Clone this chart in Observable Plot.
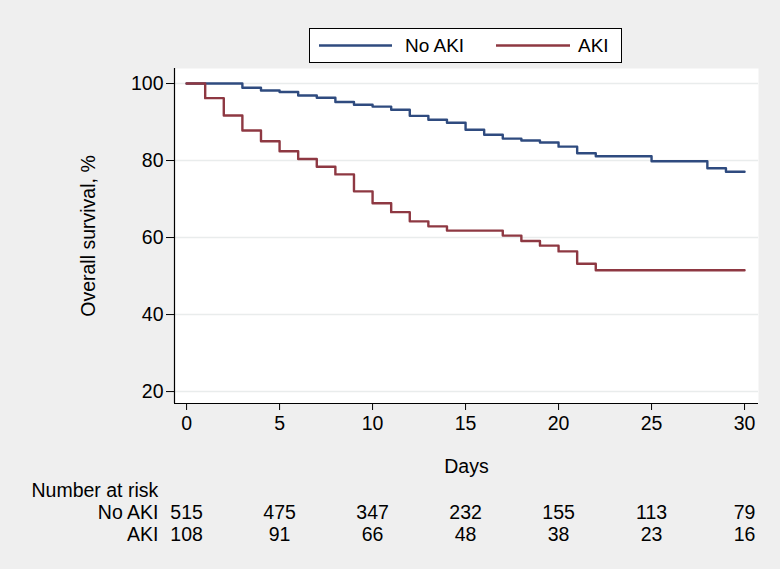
<!DOCTYPE html>
<html>
<head>
<meta charset="utf-8">
<script src="https://cdn.jsdelivr.net/npm/d3@7"></script>
<script src="https://cdn.jsdelivr.net/npm/@observablehq/plot@0.6"></script>
<style>
  html, body { margin: 0; padding: 0; background: #efefef; }
  #wrap { position: relative; width: 780px; height: 569px; font-family: "Liberation Sans", Arial, Helvetica, sans-serif; }
  #legend { position: absolute; left: 309px; top: 28px; width: 311px; height: 33px; background: #fff; border: 1.5px solid #000; }
  #legend svg { display: block; }
</style>
</head>
<body>
<div id="wrap"></div>
<script>
// ---- data ----
const seriesNames = ["No AKI", "AKI"];
const seriesColors = ["#2f4b7f", "#8e3842"];

const noAkiDays = [0, 3, 4, 5, 6, 7, 8, 9, 10, 11, 12, 13, 14, 15, 16, 17, 18, 19, 20, 21, 22, 25, 28, 29, 30];
const noAkiSurv = [100, 98.9, 98.2, 97.8, 96.9, 96.3, 95.2, 94.5, 94.0, 93.2, 91.6, 90.6, 89.8, 88.0, 86.7, 85.7, 85.2, 84.7, 83.6, 81.9, 81.1, 79.8, 78.0, 77.1, 77.1];

const akiDays = [0, 1, 2, 3, 4, 5, 6, 7, 8, 9, 10, 11, 12, 13, 14, 17, 18, 19, 20, 21, 22, 30];
const akiSurv = [100, 96.2, 91.7, 87.8, 85.0, 82.4, 80.4, 78.4, 76.4, 72.0, 68.9, 66.6, 64.2, 62.9, 61.8, 60.5, 59.1, 57.9, 56.4, 53.2, 51.5, 51.5];

const xTicks = [0, 5, 10, 15, 20, 25, 30];
const yTicks = [20, 40, 60, 80, 100];

const riskDays = [0, 5, 10, 15, 20, 25, 30];
const noAkiRisk = [515, 475, 347, 232, 155, 113, 79];
const akiRisk = [108, 91, 66, 48, 38, 23, 16];

// ---- build tables ----
const curves = [
  ...noAkiDays.map((d, i) => ({day: d, surv: noAkiSurv[i], group: seriesNames[0]})),
  ...akiDays.map((d, i) => ({day: d, surv: akiSurv[i], group: seriesNames[1]}))
];
const riskNo = riskDays.map((d, i) => ({day: d, n: noAkiRisk[i]}));
const riskAki = riskDays.map((d, i) => ({day: d, n: akiRisk[i]}));

const FONT = 19.5;
const xDomain = [-0.65, 30.75];
const yDomain = [16.9, 103.9];
const txt = {fontSize: FONT, fill: "#000", lineAnchor: "middle"};

const chart = Plot.plot({
  width: 780,
  height: 569,
  marginLeft: 174,
  marginRight: 22,
  marginTop: 68,
  marginBottom: 166,
  style: {background: "#efefef", fontFamily: "'Liberation Sans', Arial, Helvetica, sans-serif", fontSize: FONT + "px", color: "#000", overflow: "visible"},
  x: {domain: xDomain},
  y: {domain: yDomain},
  color: {domain: seriesNames, range: seriesColors},
  marks: [
    Plot.frame({fill: "#fff", stroke: null}),
    Plot.gridY(yTicks, {stroke: "#e9ecec", strokeOpacity: 1, strokeWidth: 1.6}),
    Plot.ruleX([xDomain[0]], {stroke: "#000", strokeWidth: 1.2}),
    Plot.ruleY([yDomain[0]], {stroke: "#000", strokeWidth: 1.2}),
    Plot.axisY(yTicks, {tickSize: 8, tickPadding: 3, fontSize: FONT, label: null, stroke: "#000"}),
    Plot.axisX(xTicks, {tickSize: 7, tickPadding: 6, fontSize: FONT, label: null, stroke: "#000"}),
    Plot.line(curves, {x: "day", y: "surv", z: "group", stroke: "group", curve: "step-after", strokeWidth: 2.4}),
    // axis titles
    Plot.text(["Days"], {frameAnchor: "bottom", dy: 63, ...txt}),
    Plot.text(["Overall survival, %"], {frameAnchor: "left", dx: -86, rotate: -90, textAnchor: "middle", ...txt}),
    // number at risk table
    Plot.text(["Number at risk"], {frameAnchor: "bottom-left", dx: -143, dy: 87, textAnchor: "start", ...txt}),
    Plot.text([seriesNames[0]], {frameAnchor: "bottom-left", dx: -16, dy: 109, textAnchor: "end", ...txt}),
    Plot.text([seriesNames[1]], {frameAnchor: "bottom-left", dx: -16, dy: 131.5, textAnchor: "end", ...txt}),
    Plot.text(riskNo, {x: "day", frameAnchor: "bottom", dy: 109, text: d => String(d.n), ...txt}),
    Plot.text(riskAki, {x: "day", frameAnchor: "bottom", dy: 131.5, text: d => String(d.n), ...txt})
  ]
});

const wrap = document.getElementById("wrap");
wrap.appendChild(chart);

// legend (HTML + inline svg swatches)
const legend = document.createElement("div");
legend.id = "legend";
const ns = "http://www.w3.org/2000/svg";
const lsvg = document.createElementNS(ns, "svg");
lsvg.setAttribute("width", 311);
lsvg.setAttribute("height", 33);
lsvg.style.fontFamily = "'Liberation Sans', Arial, Helvetica, sans-serif";
const items = [
  {x1: 9, x2: 82, tx: 95},
  {x1: 186, x2: 260, tx: 268}
];
seriesNames.forEach((name, i) => {
  const ln = document.createElementNS(ns, "line");
  ln.setAttribute("x1", items[i].x1); ln.setAttribute("x2", items[i].x2);
  ln.setAttribute("y1", 16.5); ln.setAttribute("y2", 16.5);
  ln.setAttribute("stroke", seriesColors[i]); ln.setAttribute("stroke-width", 2.4);
  lsvg.appendChild(ln);
  const t = document.createElementNS(ns, "text");
  t.setAttribute("x", items[i].tx); t.setAttribute("y", 16.5);
  t.setAttribute("dy", "0.35em");
  t.setAttribute("font-size", 19);
  t.textContent = name;
  lsvg.appendChild(t);
});
legend.appendChild(lsvg);
wrap.appendChild(legend);
</script>
</body>
</html>
